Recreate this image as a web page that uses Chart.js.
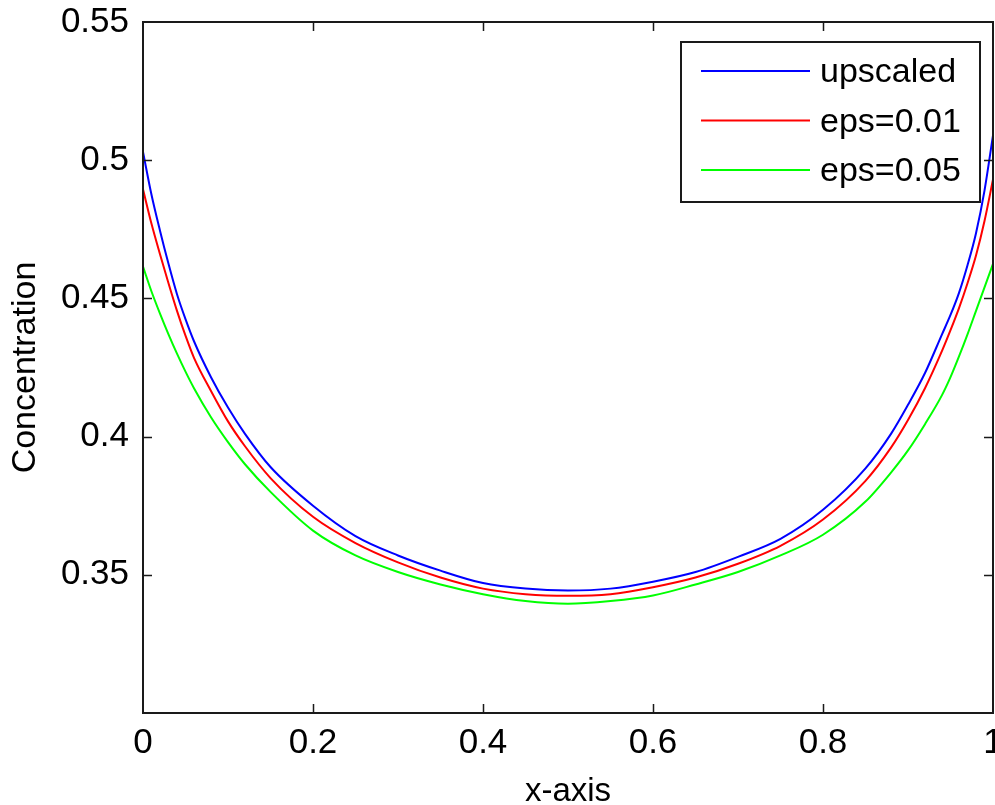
<!DOCTYPE html>
<html>
<head>
<meta charset="utf-8">
<script src="https://cdn.jsdelivr.net/npm/chart.js@4.4.1/dist/chart.umd.min.js"></script>
<style>
  html, body { margin: 0; padding: 0; background: #ffffff; }
  #wrap { width: 995px; height: 805px; position: relative; }
</style>
</head>
<body>
<div id="wrap"><canvas id="c" width="995" height="805"></canvas></div>
<script>
// ---- data ----
const xValues = [0, 0.01, 0.02, 0.03, 0.04, 0.05, 0.06, 0.08, 0.10, 0.12, 0.15, 0.20, 0.25, 0.30, 0.35, 0.40, 0.45, 0.50,
                 0.55, 0.60, 0.65, 0.70, 0.75, 0.80, 0.85, 0.88, 0.90, 0.92, 0.94, 0.95, 0.96, 0.97, 0.98, 0.99, 1.0];
const upscaled = [0.503, 0.4875, 0.4745, 0.4625, 0.4515, 0.4425, 0.4345, 0.4215, 0.4105, 0.401, 0.389, 0.375, 0.364, 0.357, 0.3515, 0.347, 0.345, 0.3443,
                  0.345, 0.3475, 0.351, 0.3565, 0.363, 0.3735, 0.3885, 0.401, 0.4115, 0.423, 0.437, 0.444, 0.452, 0.462, 0.4736, 0.489, 0.509];
const eps001 = [0.4895, 0.477, 0.466, 0.4555, 0.4455, 0.4365, 0.4285, 0.4165, 0.4055, 0.3965, 0.385, 0.371, 0.3615, 0.3545, 0.349, 0.345, 0.343, 0.3424,
                0.343, 0.3455, 0.349, 0.354, 0.3605, 0.370, 0.384, 0.396, 0.406, 0.4175, 0.431, 0.4385, 0.4465, 0.4555, 0.4655, 0.478, 0.493];
const eps005 = [0.4615, 0.4525, 0.4445, 0.437, 0.430, 0.4235, 0.4175, 0.407, 0.398, 0.390, 0.380, 0.366, 0.357, 0.351, 0.3465, 0.343, 0.3405, 0.3395,
                0.3405, 0.3425, 0.3465, 0.351, 0.357, 0.3645, 0.3765, 0.387, 0.395, 0.4045, 0.415, 0.4215, 0.429, 0.437, 0.4455, 0.454, 0.4625];
const seriesLabels = ['upscaled', 'eps=0.01', 'eps=0.05'];
const seriesColors = ['#0000ff', '#ff0000', '#00ff00'];
const xTicks = [0, 0.2, 0.4, 0.6, 0.8, 1];
const yTicks = [0.35, 0.4, 0.45, 0.5, 0.55];
const xTitle = 'x-axis';
const yTitle = 'Concentration';

const FONT = "'Liberation Sans', Arial, Helvetica, sans-serif";

function pts(ys) { return xValues.map((x, i) => ({ x: x, y: ys[i] })); }

const frameAndTicks = {
  id: 'frameAndTicks',
  afterDatasetsDraw(chart) {
    const ctx = chart.ctx, a = chart.chartArea;
    const xs = chart.scales.x, ys = chart.scales.y;
    ctx.save();
    ctx.strokeStyle = '#1a1a1a';
    ctx.lineWidth = 2;
    ctx.strokeRect(a.left, a.top, a.right - a.left, a.bottom - a.top);
    ctx.lineWidth = 1.5;
    const L = 9;
    ctx.beginPath();
    xTicks.forEach(v => {
      const p = Math.round(xs.getPixelForValue(v)) + 0.5;
      if (p > a.left + 2 && p < a.right - 2) {
        ctx.moveTo(p, a.bottom); ctx.lineTo(p, a.bottom - L);
        ctx.moveTo(p, a.top); ctx.lineTo(p, a.top + L);
      }
    });
    yTicks.forEach(v => {
      const p = Math.round(ys.getPixelForValue(v)) + 0.5;
      if (p > a.top + 2 && p < a.bottom - 2) {
        ctx.moveTo(a.left, p); ctx.lineTo(a.left + L, p);
        ctx.moveTo(a.right, p); ctx.lineTo(a.right - L, p);
      }
    });
    ctx.stroke();

    // legend box (inside the plot, top right)
    const bw = 299, bh = 160;
    const bx = a.right - 13 - bw, by = a.top + 20;
    ctx.fillStyle = '#ffffff';
    ctx.fillRect(bx, by, bw, bh);
    ctx.strokeStyle = '#1a1a1a';
    ctx.lineWidth = 2;
    ctx.strokeRect(bx, by, bw, bh);
    ctx.font = '34px ' + FONT;
    ctx.textBaseline = 'middle';
    ctx.textAlign = 'left';
    chart.data.datasets.forEach((ds, i) => {
      const ry = by + 29 + i * 49.5;
      ctx.strokeStyle = ds.borderColor;
      ctx.lineWidth = 2;
      ctx.beginPath();
      ctx.moveTo(bx + 20, ry); ctx.lineTo(bx + 129, ry);
      ctx.stroke();
      ctx.fillStyle = '#000000';
      ctx.fillText(ds.label, bx + 139, ry + 2);
    });
    ctx.restore();
  }
};

new Chart(document.getElementById('c'), {
  type: 'line',
  data: {
    datasets: [
      { label: seriesLabels[0], data: pts(upscaled), borderColor: seriesColors[0], order: 3 },
      { label: seriesLabels[1], data: pts(eps001), borderColor: seriesColors[1], order: 2 },
      { label: seriesLabels[2], data: pts(eps005), borderColor: seriesColors[2], order: 1 }
    ].map(d => Object.assign(d, { borderWidth: 2, pointRadius: 0, fill: false, cubicInterpolationMode: 'monotone' }))
  },
  options: {
    responsive: false,
    animation: false,
    devicePixelRatio: 1,
    layout: { padding: { top: 22, right: 2, bottom: 0, left: 0 } },
    plugins: { legend: { display: false }, tooltip: { enabled: false } },
    scales: {
      x: {
        type: 'linear', min: 0, max: 1,
        grid: { display: false, drawTicks: false },
        border: { display: false },
        afterBuildTicks: s => { s.ticks = xTicks.map(v => ({ value: v })); },
        ticks: { color: '#000', font: { size: 35, family: FONT }, padding: 9, maxRotation: 0,
                 callback: v => String(v) },
        title: { display: true, text: xTitle, color: '#000', font: { size: 33, family: FONT, lineHeight: 1.0 }, padding: { top: 0, bottom: -3 } },
        afterFit: s => { s.height = 92; s.paddingLeft = 0; s.paddingRight = 0; }
      },
      y: {
        type: 'linear', min: 0.3, max: 0.55,
        grid: { display: false, drawTicks: false },
        border: { display: false },
        afterBuildTicks: s => { s.ticks = yTicks.map(v => ({ value: v })); },
        ticks: { color: '#000', font: { size: 35, family: FONT }, padding: 14,
                 callback: v => String(v) },
        title: { display: true, text: yTitle, color: '#000', font: { size: 34, family: FONT }, padding: { top: 5, bottom: 0 } },
        afterFit: s => { s.width = 143; s.paddingTop = 0; s.paddingBottom = 0; }
      }
    }
  },
  plugins: [frameAndTicks]
});
</script>
</body>
</html>
